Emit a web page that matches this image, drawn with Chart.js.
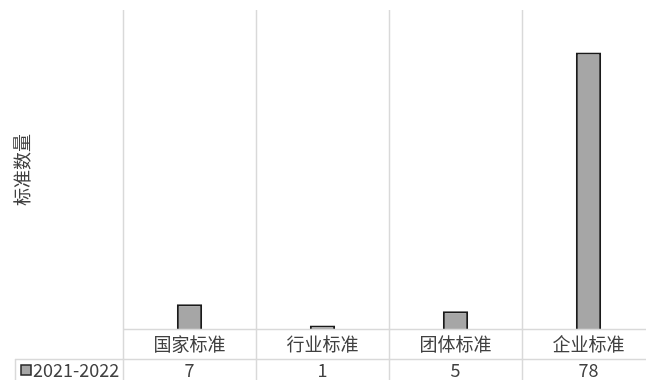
<!DOCTYPE html>
<html>
<head>
<meta charset="utf-8">
<script src="https://cdn.jsdelivr.net/npm/chart.js@4/dist/chart.umd.min.js"></script>
<style>
    html, body { margin: 0; padding: 0; background: #fff; overflow: hidden; }
    #wrap { width: 646px; height: 380px; overflow: hidden; }
</style>
</head>
<body>
<div id="wrap"><canvas id="grafico" width="660" height="380"></canvas></div>
<script>
const categorias = ['国家标准', '行业标准', '团体标准', '企业标准'];
const serieNome = '2021-2022';
const valores = [7, 1, 5, 78];
const eixoTitulo = '标准数量';

const fonte = '"Noto Sans CJK SC", "Noto Sans", sans-serif';
const corTexto = '#404040';
const corGrade = '#d9d9d9';

// tabela de dados embaixo do gráfico (estilo Excel)
const tabelaPlugin = {
    id: 'tabela',
    afterDraw(chart) {
        const ctx = chart.ctx;
        const area = chart.chartArea;
        const x = chart.scales.x;
        const meio = (x.getPixelForValue(1) - x.getPixelForValue(0)) / 2;
        const linha1 = area.bottom;
        const linha2 = area.bottom + 30;
        const fim = chart.height;

        ctx.save();
        ctx.strokeStyle = corGrade;
        ctx.lineWidth = 1.5;
        ctx.beginPath();
        // linhas verticais das categorias
        for (let i = 0; i <= categorias.length; i++) {
            const px = Math.round(x.getPixelForValue(i) - meio) + 0.5;
            ctx.moveTo(px, area.top);
            ctx.lineTo(px, fim);
        }
        ctx.moveTo(area.left, linha1 + 0.5);
        ctx.lineTo(chart.width, linha1 + 0.5);
        ctx.moveTo(15, linha2 + 0.5);
        ctx.lineTo(chart.width, linha2 + 0.5);
        ctx.moveTo(15.5, linha2);
        ctx.lineTo(15.5, fim);
        ctx.stroke();

        ctx.fillStyle = corTexto;
        ctx.font = '18px ' + fonte;
        ctx.textAlign = 'center';
        ctx.textBaseline = 'middle';
        for (let i = 0; i < categorias.length; i++) {
            const px = x.getPixelForValue(i);
            ctx.fillText(categorias[i], px, linha1 + 15);
            ctx.fillText(String(valores[i]), px, linha2 + 11);
        }

        // legenda da série
        ctx.fillStyle = '#a6a6a6';
        ctx.fillRect(21, linha2 + 6, 10, 10);
        ctx.strokeStyle = '#262626';
        ctx.lineWidth = 1.5;
        ctx.strokeRect(21, linha2 + 6, 10, 10);
        ctx.fillStyle = corTexto;
        ctx.textAlign = 'left';
        ctx.fillText(serieNome, 33, linha2 + 11);

        // título do eixo y
        ctx.translate(22, 170);
        ctx.rotate(-Math.PI / 2);
        ctx.textAlign = 'center';
        ctx.fillText(eixoTitulo, 0, 0);
        ctx.restore();
    }
};

const data = {
    labels: categorias,
    datasets: [{
        label: serieNome,
        data: valores,
        backgroundColor: '#a6a6a6',
        borderColor: '#1a1a1a',
        borderWidth: 2,
        barPercentage: 0.19,
        categoryPercentage: 1,
    }]
};

const config = {
    type: 'bar',
    data: data,
    options: {
        responsive: false,
        devicePixelRatio: 1,
        animation: false,
        layout: { padding: { left: 123, top: 10, right: 5, bottom: 51 } },
        plugins: {
            legend: { display: false },
            tooltip: { enabled: false },
        },
        scales: {
            x: { display: false },
            y: { display: false, min: 0, max: 90 },
        }
    },
    plugins: [tabelaPlugin]
};

new Chart(document.getElementById('grafico'), config);
</script>
</body>
</html>
